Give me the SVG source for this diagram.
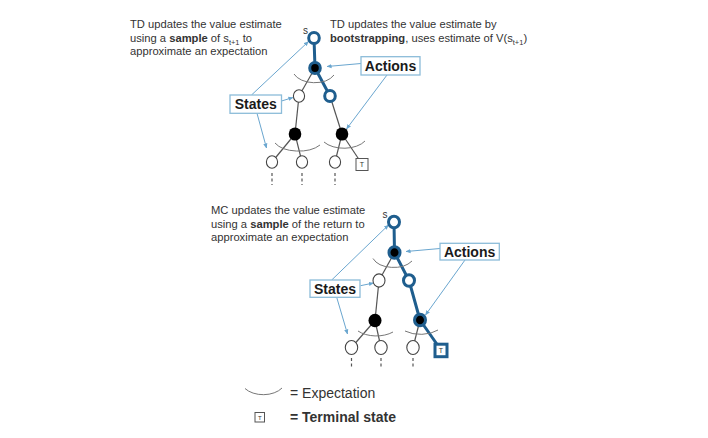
<svg xmlns="http://www.w3.org/2000/svg" width="708" height="438" viewBox="0 0 708 438">
<defs>
<marker id="arr" viewBox="0 0 6 6" refX="5.5" refY="3" markerWidth="5" markerHeight="5" orient="auto" markerUnits="userSpaceOnUse">
<path d="M0,0.5 L6,3 L0,5.5 z" fill="#6aa6cf"/>
</marker>
</defs>
<style>
.txt{font-family:"Liberation Sans",Arial,sans-serif;font-size:11.2px;fill:#333}
.b{font-weight:bold}
.sub{font-size:7.5px}
.lbl{font-family:"Liberation Sans",Arial,sans-serif;font-size:14px;font-weight:bold;fill:#1a1a1a;text-anchor:middle}
.box{fill:#fff;stroke:#8cbcd9;stroke-width:1.3}
.call{stroke:#6aa6cf;stroke-width:1;fill:none;marker-end:url(#arr)}
.edge{stroke:#555;stroke-width:1.2;fill:none}
.bedge{stroke:#1f5e8e;stroke-width:3;fill:none;stroke-linecap:round}
.st{fill:#fff;stroke:#444;stroke-width:1.1}
.bst{fill:#fff;stroke:#1f5e8e;stroke-width:3}
.act{fill:#000}
.bact{fill:#000;stroke:#1f5e8e;stroke-width:3}
.exp{stroke:#777;stroke-width:1;fill:none}
.dash{stroke:#555;stroke-width:1.2;stroke-dasharray:3 2.5}
.term{fill:#fff;stroke:#555;stroke-width:1}
.bterm{fill:#fff;stroke:#1f5e8e;stroke-width:3}
.tt{font-family:"Liberation Sans",Arial,sans-serif;font-size:7px;fill:#333;text-anchor:middle}
.sl{font-family:"Liberation Sans",Arial,sans-serif;font-size:10px;fill:#333;text-anchor:middle}
.leg{font-family:"Liberation Sans",Arial,sans-serif;font-size:14px;fill:#333}
</style>
<rect width="708" height="438" fill="#fff"/>

<g id="text-td-sample">
<text class="txt" x="130" y="28">TD updates the value estimate</text>
<text class="txt" x="130" y="41.5">using a <tspan class="b">sample</tspan> of s<tspan class="sub" dy="3">t+1</tspan><tspan dy="-3"> to</tspan></text>
<text class="txt" x="130" y="55">approximate an expectation</text>
</g>
<g id="text-td-boot">
<text class="txt" x="330" y="27.5">TD updates the value estimate by</text>
<text class="txt" x="330" y="41.5"><tspan class="b">bootstrapping</tspan>, uses estimate of V(s<tspan class="sub" dy="3">t+1</tspan><tspan dy="-3">)</tspan></text>
</g>
<g id="text-mc">
<text class="txt" x="211" y="214">MC updates the value estimate</text>
<text class="txt" x="211" y="227.5">using a <tspan class="b">sample</tspan> of the return to</text>
<text class="txt" x="211" y="241">approximate an expectation</text>
</g>

<g id="connectors">
<!-- top tree edges -->
<line class="bedge" x1="314" y1="38" x2="315" y2="68"/>
<line class="edge" x1="315" y1="68" x2="299" y2="96"/>
<line class="bedge" x1="315" y1="68" x2="330" y2="96"/>
<line class="edge" x1="299" y1="96" x2="295" y2="134"/>
<line class="edge" x1="330" y1="96" x2="342" y2="134"/>
<line class="edge" x1="295" y1="134" x2="272" y2="162"/>
<line class="edge" x1="295" y1="134" x2="302" y2="162"/>
<line class="edge" x1="342" y1="134" x2="335" y2="162"/>
<line class="edge" x1="342" y1="134" x2="362" y2="164"/>
<line class="dash" x1="272" y1="173" x2="272" y2="185"/>
<line class="dash" x1="302" y1="173" x2="302" y2="185"/>
<line class="dash" x1="335" y1="173" x2="335" y2="185"/>
<path class="exp" d="M294,74 A22,14 0 0 0 334,75"/>
<path class="exp" d="M275,143 A26,14 0 0 0 320,145"/>
<path class="exp" d="M324,142 A24,14 0 0 0 365,141"/>
<!-- bottom tree edges -->
<line class="bedge" x1="394" y1="222" x2="394.5" y2="252.5"/>
<line class="edge" x1="394.5" y1="252.5" x2="379" y2="280.5"/>
<line class="bedge" x1="394.5" y1="252.5" x2="409" y2="280.5"/>
<line class="edge" x1="379" y1="280.5" x2="375" y2="320.5"/>
<line class="bedge" x1="409" y1="280.5" x2="420" y2="320"/>
<line class="edge" x1="375" y1="320.5" x2="351.5" y2="347.5"/>
<line class="edge" x1="375" y1="320.5" x2="381" y2="347.5"/>
<line class="edge" x1="420" y1="320" x2="413" y2="347.5"/>
<line class="bedge" x1="420" y1="320" x2="441" y2="350"/>
<line class="dash" x1="351.5" y1="358" x2="351.5" y2="369"/>
<line class="dash" x1="381" y1="358" x2="381" y2="369"/>
<line class="dash" x1="413" y1="358" x2="413" y2="369"/>
<path class="exp" d="M373,258.5 A22,14 0 0 0 412,261"/>
<path class="exp" d="M358,331 A24,14 0 0 0 393,332"/>
<path class="exp" d="M405,331 A24,14 0 0 0 438,330"/>
<!-- callouts top -->
<line class="call" x1="251.5" y1="95" x2="308.5" y2="41.5"/>
<line class="call" x1="281.5" y1="101" x2="293" y2="97.5"/>
<line class="call" x1="257" y1="113.3" x2="266.5" y2="148"/>
<line class="call" x1="361" y1="63.5" x2="327" y2="66.5"/>
<line class="call" x1="387" y1="75" x2="346.5" y2="129"/>
<!-- callouts bottom -->
<line class="call" x1="331.7" y1="280" x2="388.5" y2="225"/>
<line class="call" x1="360.5" y1="285.7" x2="373.5" y2="283"/>
<line class="call" x1="336.7" y1="297.3" x2="347.5" y2="334"/>
<line class="call" x1="440" y1="248.5" x2="406" y2="251.5"/>
<line class="call" x1="465" y1="260" x2="425.5" y2="315"/>
</g>

<g id="top-tree">
<g id="t-s"><ellipse class="bst" cx="314" cy="38" rx="5.3" ry="5.6"/><text class="sl" x="305.5" y="33.5">s</text></g>
<g id="t-a1"><ellipse class="bact" cx="315" cy="68" rx="5.3" ry="5.6"/></g>
<g id="t-sl"><ellipse class="st" cx="299" cy="96" rx="5.6" ry="6.2"/></g>
<g id="t-sr"><ellipse class="bst" cx="330" cy="96" rx="5.3" ry="5.6"/></g>
<g id="t-al"><ellipse class="act" cx="295" cy="134" rx="6.3" ry="6.6"/></g>
<g id="t-ar"><ellipse class="act" cx="342" cy="134" rx="6.3" ry="6.6"/></g>
<g id="t-l1"><ellipse class="st" cx="272" cy="162" rx="5.6" ry="6.3"/></g>
<g id="t-l2"><ellipse class="st" cx="302" cy="162" rx="5.6" ry="6.3"/></g>
<g id="t-l3"><ellipse class="st" cx="335" cy="162" rx="5.6" ry="6.3"/></g>
<g id="t-term"><rect class="term" x="356" y="158.5" width="12" height="12"/><text class="tt" x="362" y="167.3">T</text></g>
<g id="t-states"><rect class="box" x="230" y="95" width="51.5" height="18.3"/><text class="lbl" x="255.8" y="109.2">States</text></g>
<g id="t-actions"><rect class="box" x="361" y="56.7" width="59" height="18.3"/><text class="lbl" x="390.5" y="70.9">Actions</text></g>
</g>

<g id="bottom-tree">
<g id="b-s"><ellipse class="bst" cx="394" cy="222" rx="5.5" ry="5.8"/><text class="sl" x="385" y="217.5">s</text></g>
<g id="b-a1"><ellipse class="bact" cx="394.5" cy="252.5" rx="5.5" ry="5.8"/></g>
<g id="b-sl"><ellipse class="st" cx="379" cy="280.5" rx="6" ry="6.6"/></g>
<g id="b-sr"><ellipse class="bst" cx="409" cy="280.5" rx="5.5" ry="5.8"/></g>
<g id="b-al"><ellipse class="act" cx="375" cy="320.5" rx="6.5" ry="6.8"/></g>
<g id="b-ar"><ellipse class="bact" cx="420" cy="320" rx="5.5" ry="5.8"/></g>
<g id="b-l1"><ellipse class="st" cx="351.5" cy="347.5" rx="6.2" ry="7"/></g>
<g id="b-l2"><ellipse class="st" cx="381" cy="347.5" rx="6.2" ry="7"/></g>
<g id="b-l3"><ellipse class="st" cx="413" cy="347.5" rx="6.2" ry="7"/></g>
<g id="b-term"><rect class="bterm" x="435" y="344.2" width="12" height="12.5"/><text class="tt" x="441" y="353">T</text></g>
<g id="b-states"><rect class="box" x="310" y="280" width="50" height="17.3"/><text class="lbl" x="335" y="293.6">States</text></g>
<g id="b-actions"><rect class="box" x="440" y="243.3" width="59.3" height="16.7"/><text class="lbl" x="469.6" y="256.8">Actions</text></g>
</g>

<g id="legend">
<path class="exp" d="M245,388.5 A22,14 0 0 0 282,388"/>
<text class="leg" x="290" y="397.5">= Expectation</text>
<rect class="term" x="255" y="412.5" width="9.5" height="9.5"/>
<text class="tt" x="259.75" y="419.6" style="font-size:6px">T</text>
<text class="leg b" x="290" y="422">= Terminal state</text>
</g>
</svg>
